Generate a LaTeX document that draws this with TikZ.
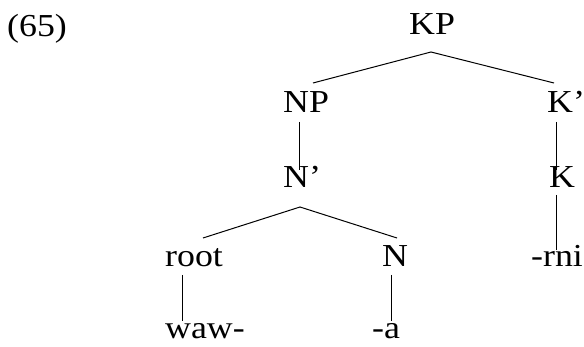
\documentclass[tikz,border=0pt]{standalone}
\usepackage{fontspec}
\setmainfont[FakeStretch=1.12]{Liberation Serif}
\usetikzlibrary{calc}
\begin{document}
\begin{tikzpicture}[x=1pt,y=-1pt,
  lbl/.style={anchor=base west,inner sep=0pt,font=\fontsize{32}{38}\selectfont},
  branch/.style={line width=1pt}]
\useasboundingbox (0,0) rectangle (584,347);
\node[lbl] (ex) at (7,37) {(65)};
\node[lbl] (KP) at (409,35) {KP};
\node[lbl] (NP) at (283,113) {NP};
\node[lbl] (Kbar) at (547,113) {K’};
\node[lbl] (Nbar) at (283,188) {N’};
\node[lbl] (K) at (549,188) {K};
\node[lbl] (root) at (165,267) {root};
\node[lbl] (N) at (382,267) {N};
\node[lbl] (rni) at (531,267) {-rni};
\node[lbl] (waw) at (165,339) {waw-};
\node[lbl] (a) at (372,339) {-a};
\draw[branch] ($(NP.base west)+(30,-30)$) -- ($(KP.base west)+(22,17)$) -- ($(Kbar.base west)+(7,-30)$);
\draw[branch] ($(NP.base west)+(16,9)$) -- ($(Nbar.base west)+(16,-18)$);
\draw[branch] ($(Kbar.base west)+(9,9)$) -- ($(K.base west)+(7,-18)$);
\draw[branch] ($(root.base west)+(38,-29)$) -- ($(Nbar.base west)+(17,19)$) -- ($(N.base west)+(15,-29)$);
\draw[branch] ($(K.base west)+(7,7)$) -- ($(rni.base west)+(25,-17)$);
\draw[branch] ($(root.base west)+(17,8)$) -- ($(waw.base west)+(17,-18)$);
\draw[branch] ($(N.base west)+(9,8)$) -- ($(a.base west)+(19,-18)$);
\end{tikzpicture}
\end{document}
